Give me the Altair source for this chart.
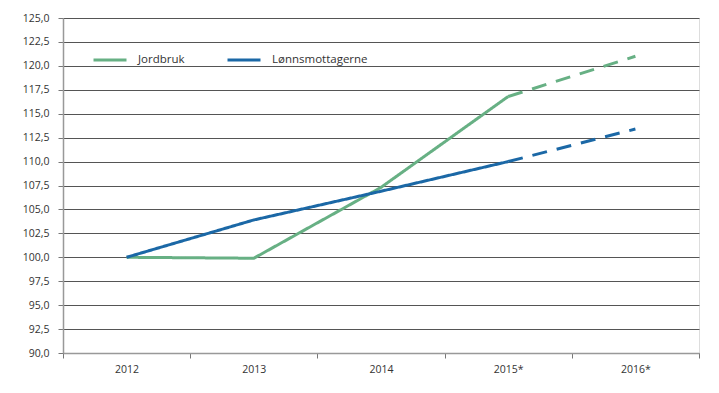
import altair as alt
import pandas as pd

years = ["2012", "2013", "2014", "2015*", "2016*"]
jordbruk = [100.0, 99.9, 107.3, 116.8, 121.0]
lonn = [100.0, 103.9, 106.9, 110.0, 113.4]
series = ["Jordbruk", "Lønnsmottagerne"]
colors = ["#67b084", "#1b68a6"]
segments = ["faktisk", "anslag"]

rows = []
for name, vals in zip(series, [jordbruk, lonn]):
    for i, (y, v) in enumerate(zip(years, vals)):
        if i <= 3:
            rows.append({"år": y, "serie": name, "verdi": v, "del": "faktisk"})
        if i >= 3:
            rows.append({"år": y, "serie": name, "verdi": v, "del": "anslag"})
df = pd.DataFrame(rows)

font = "Open Sans"

x_enc = alt.X(
    "år:N",
    sort=years,
    bandPosition=0.5,
    scale=alt.Scale(type="band", domain=years, paddingInner=0, paddingOuter=0),
    axis=alt.Axis(
        title=None,
        grid=False,
        tickBand="extent",
        labelAngle=0,
        tickSize=5,
        tickColor="#777",
        domainColor="#999",
        domainWidth=1.5,
        labelPadding=6,
        labelFont=font,
        labelFontSize=10.5,
        labelColor="#333",
    ),
)
y_enc = alt.Y(
    "verdi:Q",
    scale=alt.Scale(domain=[90, 125], nice=False, zero=False),
    axis=alt.Axis(
        title=None,
        values=[90 + 2.5 * k for k in range(15)],
        labelExpr="replace(format(datum.value, '.1f'), '.', ',')",
        grid=True,
        gridColor="#555",
        gridWidth=1,
        tickSize=5,
        tickColor="#777",
        domainColor="#999",
        domainWidth=1.5,
        labelPadding=9,
        labelFont=font,
        labelFontSize=10.5,
        labelColor="#333",
    ),
)
color_enc = alt.Color(
    "serie:N",
    scale=alt.Scale(domain=series, range=colors),
    legend=alt.Legend(
        title=None,
        orient="none",
        legendX=29,
        legendY=24,
        padding=0,
        direction="horizontal",
        symbolType="stroke",
        symbolSize=1089,
        symbolStrokeWidth=3,
        symbolDash=[1, 0],
        labelFont=font,
        labelFontSize=11.5,
        labelColor="#333",
        labelOffset=10,
        columnPadding=36,
    ),
)
dash_enc = alt.StrokeDash(
    "del:N",
    scale=alt.Scale(domain=segments, range=[[1, 0], [15, 10]]),
    legend=None,
)

chart = (
    alt.Chart(df)
    .mark_line(strokeWidth=3)
    .encode(x=x_enc, y=y_enc, color=color_enc, strokeDash=dash_enc, detail="serie:N")
    .properties(
        width=636,
        height=335,
        autosize=alt.AutoSizeParams(type="none"),
        padding={"left": 55, "top": 10, "right": 10, "bottom": 30},
    )
    .configure_view(stroke=None)
    .configure(background="white")
)

chart.save("out.html", embed_options={"renderer": "svg", "actions": False})
